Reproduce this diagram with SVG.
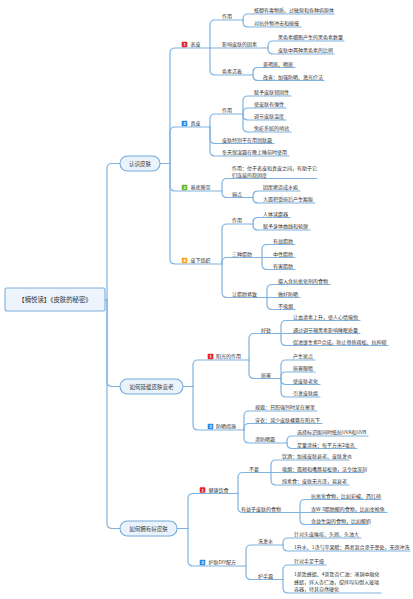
<svg xmlns="http://www.w3.org/2000/svg" width="413" height="599" viewBox="0 0 413 599">
<style>
.c{fill:none;stroke:#7fb2df;stroke-width:1.2;stroke-linecap:round}
text{font-family:"Noto Sans CJK SC","Noto Sans",sans-serif;fill:#333}
.t{font-size:5px}
.p{font-size:5.5px;text-anchor:middle}
.r{font-size:6.4px;text-anchor:middle}
.pill{fill:#eaf3fc;stroke:#73a9dc;stroke-width:1.1}
.ic{font-size:4px;fill:#fff;text-anchor:middle;font-family:"Liberation Sans",sans-serif;font-weight:bold}
</style>
<rect width="413" height="599" fill="#fff"/>
<g id="connectors" class="c">
<path d="M105,300 H107 V168.5 Q107,163.5 112,163.5 H120"/>
<path d="M105,300 H107 V381.5 Q107,386.5 112,386.5 H120"/>
<path d="M105,300 H107 V523.5 Q107,528.5 112,528.5 H120"/>
<path d="M160,163.5 H170 V53 Q170,48 175,48 H210"/>
<path d="M160,163.5 H170 V132 Q170,127 175,127 H210"/>
<path d="M160,163.5 H170 V186 Q170,191 175,191 H222"/>
<path d="M160,163.5 H170 V259 Q170,264 175,264 H222"/>
<path d="M210,48 V25 Q210,20 215,20 H243"/>
<path d="M210,48 H268"/>
<path d="M210,48 V70 Q210,75 215,75 H253"/>
<path d="M243,20 V19 Q243,14 248,14 H334"/>
<path d="M243,20 V22 Q243,27 248,27 H301"/>
<path d="M268,48 V46 Q268,41 273,41 H344"/>
<path d="M268,48 V49 Q268,54 273,54 H334"/>
<path d="M253,75 V72.5 Q253,67.5 258,67.5 H295"/>
<path d="M253,75 V75.5 Q253,80.5 258,80.5 H324"/>
<path d="M210,127 V119 Q210,114 215,114 H243"/>
<path d="M210,127 V138.5 Q210,143.5 215,143.5 H274"/>
<path d="M210,127 V151 Q210,156 215,156 H289"/>
<path d="M243,114 V101 Q243,96 248,96 H291"/>
<path d="M243,114 V113 Q243,108 248,108 H286"/>
<path d="M243,114 V115 Q243,120 248,120 H286"/>
<path d="M243,114 V127 Q243,132 248,132 H291"/>
<path d="M222,191 V183.5 Q222,178.5 227,178.5 H317"/>
<path d="M222,191 V192.5 Q222,197.5 227,197.5 H253"/>
<path d="M253,197.5 V196 Q253,191 258,191 H300"/>
<path d="M253,197.5 V198 Q253,203 258,203 H315"/>
<path d="M222,264 V229 Q222,224 227,224 H253"/>
<path d="M222,264 V262.5 Q222,257.5 227,257.5 H262"/>
<path d="M222,264 V292.5 Q222,297.5 227,297.5 H267"/>
<path d="M253,224 V222.5 Q253,217.5 258,217.5 H290"/>
<path d="M253,224 V225 Q253,230 258,230 H310"/>
<path d="M262,257.5 V249.5 Q262,244.5 267,244.5 H295"/>
<path d="M262,257.5 H295"/>
<path d="M262,257.5 V264.5 Q262,269.5 267,269.5 H295"/>
<path d="M267,297.5 V289.5 Q267,284.5 272,284.5 H330"/>
<path d="M267,297.5 H300"/>
<path d="M267,297.5 V304.5 Q267,309.5 272,309.5 H295"/>
<path d="M183,386.5 H193 V365 Q193,360 198,360 H249"/>
<path d="M183,386.5 H193 V425 Q193,430 198,430 H244"/>
<path d="M249,360 V338.5 Q249,333.5 254,333.5 H281"/>
<path d="M249,360 V373.5 Q249,378.5 254,378.5 H281"/>
<path d="M281,333.5 V325.5 Q281,320.5 286,320.5 H360"/>
<path d="M281,333.5 H360"/>
<path d="M281,333.5 V340.5 Q281,345.5 286,345.5 H388"/>
<path d="M281,378.5 V365 Q281,360 286,360 H315"/>
<path d="M281,378.5 V377 Q281,372 286,372 H315"/>
<path d="M281,378.5 V379.5 Q281,384.5 286,384.5 H320"/>
<path d="M281,378.5 V392 Q281,397 286,397 H320"/>
<path d="M244,430 V416 Q244,411 249,411 H317"/>
<path d="M244,430 V428.5 Q244,423.5 249,423.5 H322"/>
<path d="M244,430 V438 Q244,443 249,443 H287"/>
<path d="M287,443 V441 Q287,436 292,436 H368"/>
<path d="M287,443 V443.5 Q287,448.5 292,448.5 H357"/>
<path d="M177,528.5 H188 V498.5 Q188,493.5 193,493.5 H238"/>
<path d="M177,528.5 H188 V561 Q188,566 193,566 H246"/>
<path d="M238,493.5 V477.5 Q238,472.5 243,472.5 H271"/>
<path d="M238,493.5 V507.5 Q238,512.5 243,512.5 H300"/>
<path d="M271,472.5 V465 Q271,460 276,460 H349"/>
<path d="M271,472.5 H364"/>
<path d="M271,472.5 V480 Q271,485 276,485 H349"/>
<path d="M300,512.5 V504.5 Q300,499.5 305,499.5 H381"/>
<path d="M300,512.5 H387"/>
<path d="M300,512.5 V519.5 Q300,524.5 305,524.5 H368"/>
<path d="M246,566 V550 Q246,545 251,545 H283"/>
<path d="M246,566 V574.5 Q246,579.5 251,579.5 H283"/>
<path d="M283,545 V543 Q283,538 288,538 H361"/>
<path d="M283,545 V546 Q283,551 288,551 H410"/>
<path d="M283,579.5 V570 Q283,565 288,565 H326"/>
<path d="M283,579.5 V588 Q283,593 288,593 H381"/>
</g>
<g id="root"><rect x="5" y="288" width="100" height="23" rx="2" fill="#edf4fb" stroke="#7eb0dd" stroke-width="1.1"/><text class="r" x="55" y="302.2">【楠悦读】《皮肤的秘密》</text></g>
<g id="b1"><rect class="pill" x="120" y="156" width="40" height="15" rx="7.5"/><text class="p" x="140" y="165.5">认识皮肤</text></g>
<g id="b2"><rect class="pill" x="120" y="379" width="63" height="15" rx="7.5"/><text class="p" x="151.5" y="388.5">如何延缓皮肤衰老</text></g>
<g id="b3"><rect class="pill" x="120" y="521" width="57" height="15" rx="7.5"/><text class="p" x="148.5" y="530.5">如何拥有好皮肤</text></g>
<g id="b1-1"><rect x="181.7" y="41.7" width="5.6" height="5.6" rx="0.8" fill="#e3242b"/><text class="ic" x="184.5" y="46">1</text><text class="t" x="190.5" y="46.4">表皮</text></g>
<g id="b1-1-1"><text class="t" x="222" y="18.4">作用</text></g>
<g id="b1-1-1-1"><text class="t" x="254" y="12.4">抵御有毒物质、过敏原和各种病原体</text></g>
<g id="b1-1-1-2"><text class="t" x="254" y="25.4">对抗外物冲击和碰撞</text></g>
<g id="b1-1-2"><text class="t" x="222" y="46.4">影响皮肤的因素</text></g>
<g id="b1-1-2-1"><text class="t" x="278" y="39.4">黑色素细胞产生的黑色素数量</text></g>
<g id="b1-1-2-2"><text class="t" x="278" y="52.4">皮肤中两种黑色素的比例</text></g>
<g id="b1-1-3"><text class="t" x="222" y="73.4">色素沉着</text></g>
<g id="b1-1-3-1"><text class="t" x="263" y="65.9">黄褐斑、晒斑</text></g>
<g id="b1-1-3-2"><text class="t" x="263" y="78.9">改善：加强防晒、激光疗法</text></g>
<g id="b1-2"><rect x="181.7" y="120.7" width="5.6" height="5.6" rx="0.8" fill="#2b8be6"/><text class="ic" x="184.5" y="125">2</text><text class="t" x="190.5" y="125.4">真皮</text></g>
<g id="b1-2-1"><text class="t" x="222" y="112.4">作用</text></g>
<g id="b1-2-1-1"><text class="t" x="254" y="94.4">赋予皮肤韧固性</text></g>
<g id="b1-2-1-2"><text class="t" x="254" y="106.4">使皮肤有弹性</text></g>
<g id="b1-2-1-3"><text class="t" x="254" y="118.4">调节皮肤温度</text></g>
<g id="b1-2-1-4"><text class="t" x="254" y="130.4">免疫系统的哨站</text></g>
<g id="b1-2-2"><text class="t" x="222" y="141.9">皮肤特别干在用润肤霜</text></g>
<g id="b1-2-3"><text class="t" x="222" y="154.4">冬天保湿霜在晚上睡前时使用</text></g>
<g id="b1-3"><rect x="181.7" y="184.7" width="5.6" height="5.6" rx="0.8" fill="#6ab72a"/><text class="ic" x="184.5" y="189">3</text><text class="t" x="190.5" y="189.4">基底膜带</text></g>
<g id="b1-3-1"><text class="t" x="232" y="169.6">作用：位于表皮和真皮之间，有助于它</text><text class="t" x="232" y="176.9">们连接的稳固度</text></g>
<g id="b1-3-2"><text class="t" x="232" y="195.9">弱点</text></g>
<g id="b1-3-2-1"><text class="t" x="263" y="189.4">因摩擦造成水疱</text></g>
<g id="b1-3-2-2"><text class="t" x="263" y="201.4">大面积受损后产生瘢痕</text></g>
<g id="b1-4"><rect x="181.7" y="257.7" width="5.6" height="5.6" rx="0.8" fill="#f5a41e"/><text class="ic" x="184.5" y="262">4</text><text class="t" x="190.5" y="262.4">皮下组织</text></g>
<g id="b1-4-1"><text class="t" x="232" y="222.4">作用</text></g>
<g id="b1-4-1-1"><text class="t" x="263" y="215.9">人体减震器</text></g>
<g id="b1-4-1-2"><text class="t" x="263" y="228.4">赋予身体曲线和轮廓</text></g>
<g id="b1-4-2"><text class="t" x="232" y="255.9">三种脂肪</text></g>
<g id="b1-4-2-1"><text class="t" x="273" y="242.9">有益脂肪</text></g>
<g id="b1-4-2-2"><text class="t" x="273" y="255.9">中性脂肪</text></g>
<g id="b1-4-2-3"><text class="t" x="273" y="267.9">有害脂肪</text></g>
<g id="b1-4-3"><text class="t" x="232" y="295.9">让脂肪紧致</text></g>
<g id="b1-4-3-1"><text class="t" x="278" y="282.9">摄入含抗氧化剂的食物</text></g>
<g id="b1-4-3-2"><text class="t" x="278" y="295.9">做好防晒</text></g>
<g id="b1-4-3-3"><text class="t" x="278" y="307.9">不吸烟</text></g>
<g id="b2-1"><rect x="207.7" y="353.7" width="5.6" height="5.6" rx="0.8" fill="#e3242b"/><text class="ic" x="210.5" y="358">1</text><text class="t" x="216" y="358.4">阳光的作用</text></g>
<g id="b2-1-1"><text class="t" x="261" y="331.9">好处</text></g>
<g id="b2-1-1-1"><text class="t" x="293" y="318.9">让血清素上升，使人心情愉悦</text></g>
<g id="b2-1-1-2"><text class="t" x="293" y="331.9">通过调节褪黑素影响睡眠质量</text></g>
<g id="b2-1-1-3"><text class="t" x="293" y="343.9">促进维生素D合成，防止骨质疏松、抗抑郁</text></g>
<g id="b2-1-2"><text class="t" x="261" y="376.9">损害</text></g>
<g id="b2-1-2-1"><text class="t" x="293" y="358.4">产生斑点</text></g>
<g id="b2-1-2-2"><text class="t" x="293" y="370.4">损害眼睛</text></g>
<g id="b2-1-2-3"><text class="t" x="293" y="382.9">使皮肤老化</text></g>
<g id="b2-1-2-4"><text class="t" x="293" y="395.4">引发皮肤癌</text></g>
<g id="b2-2"><rect x="207.7" y="423.7" width="5.6" height="5.6" rx="0.8" fill="#2b8be6"/><text class="ic" x="210.5" y="428">2</text><text class="t" x="216" y="428.4">防晒措施</text></g>
<g id="b2-2-1"><text class="t" x="255" y="409.4">规避：日照强烈时呆在屋里</text></g>
<g id="b2-2-2"><text class="t" x="255" y="421.9">穿衣：减少皮肤裸露在阳光下</text></g>
<g id="b2-2-3"><text class="t" x="255" y="441.4">涂防晒霜</text></g>
<g id="b2-2-3-1"><text class="t" x="297" y="434.4">选择标识能同时抵抗UVA和UVB</text></g>
<g id="b2-2-3-2"><text class="t" x="297" y="446.9">足量涂抹：每平方米2毫克</text></g>
<g id="b3-1"><rect x="199.7" y="487.2" width="5.6" height="5.6" rx="0.8" fill="#e3242b"/><text class="ic" x="202.5" y="491.5">1</text><text class="t" x="208.5" y="491.9">健康饮食</text></g>
<g id="b3-1-1"><text class="t" x="249" y="470.9">不要</text></g>
<g id="b3-1-1-1"><text class="t" x="282" y="458.4">饮酒：加速皮肤衰老、皮肤发炎</text></g>
<g id="b3-1-1-2"><text class="t" x="282" y="470.9">吸烟：面颊和嘴唇易松弛，法令纹深刻</text></g>
<g id="b3-1-1-3"><text class="t" x="282" y="483.4">纯素食：皮肤无光泽，易衰老</text></g>
<g id="b3-1-2"><text class="t" x="241" y="510.9">有益于皮肤的食物</text></g>
<g id="b3-1-2-1"><text class="t" x="311" y="497.9">抗氧化食物，比如彩椒、西红柿</text></g>
<g id="b3-1-2-2"><text class="t" x="311" y="510.9">含W-3脂肪酸的食物，比如金枪鱼</text></g>
<g id="b3-1-2-3"><text class="t" x="311" y="522.9">含益生菌的食物，比如酸奶</text></g>
<g id="b3-2"><rect x="199.7" y="559.7" width="5.6" height="5.6" rx="0.8" fill="#2b8be6"/><text class="ic" x="202.5" y="564">2</text><text class="t" x="208.5" y="564.4">护肤DIY配方</text></g>
<g id="b3-2-1"><text class="t" x="258" y="543.4">洗发水</text></g>
<g id="b3-2-1-1"><text class="t" x="294" y="536.4">针对头皮瘙痒、头屑、头油大</text></g>
<g id="b3-2-1-2"><text class="t" x="294" y="549.4">1升水、1汤勺苹果醋：两者混合涂于患处，无须冲洗</text></g>
<g id="b3-2-2"><text class="t" x="258" y="577.9">护手霜</text></g>
<g id="b3-2-2-1"><text class="t" x="294" y="563.4">针对手足干燥</text></g>
<g id="b3-2-2-2"><text class="t" x="294" y="575.9">1茶匙蜂蜡、4茶匙杏仁油：蒸锅中融化</text><text class="t" x="294" y="583.6">蜂蜡，拌入杏仁油，搅拌均匀倒入玻璃</text><text class="t" x="294" y="591.2">容器，待其自然硬化</text></g>
</svg>
